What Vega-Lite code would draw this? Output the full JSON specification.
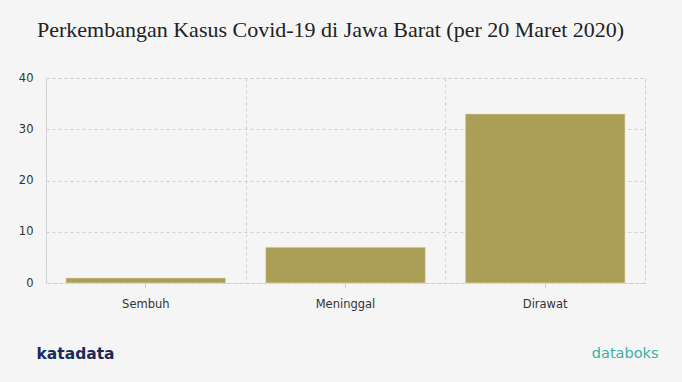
{
  "$schema": "https://vega.github.io/schema/vega-lite/v6.json",
  "autosize": "none",
  "width": 599,
  "height": 205,
  "padding": {"left": 46, "top": 78, "right": 37, "bottom": 99},
  "background": "#f5f5f5",
  "title": {
    "text": "Perkembangan Kasus Covid-19 di Jawa Barat (per 20 Maret 2020)",
    "anchor": "start",
    "frame": "group",
    "dx": -9,
    "offset": 30,
    "font": "Liberation Serif",
    "fontSize": 22,
    "fontWeight": "normal",
    "color": "#222222"
  },
  "config": {
    "view": {"stroke": "#cccccc", "strokeDash": [3, 3], "strokeWidth": 1},
    "axis": {
      "labelFont": "DejaVu Sans",
      "labelFontSize": 11.5,
      "labelColor": "#333333",
      "gridColor": "#d0d0d0",
      "gridDash": [3, 3],
      "gridWidth": 1
    }
  },
  "data": {
    "values": [
      {"status": "Sembuh", "jumlah": 1},
      {"status": "Meninggal", "jumlah": 7},
      {"status": "Dirawat", "jumlah": 33}
    ]
  },
  "layer": [
    {
      "mark": {"type": "bar", "opacity": 0},
      "encoding": {
        "x": {
          "field": "status", "type": "nominal", "sort": null,
          "scale": {"paddingInner": 0, "paddingOuter": 0},
          "axis": {
            "orient": "bottom",
            "grid": true, "tickBand": "extent", "ticks": false, "labels": false, "domain": false,
            "title": null
          }
        },
        "y": {
          "field": "jumlah", "type": "quantitative",
          "scale": {"domain": [0, 40]},
          "axis": {
            "domain": false, "ticks": false, "labelPadding": 13, "tickCount": 4, "grid": true,
            "title": "katadata", "titleAngle": 0, "titleAnchor": "start", "titleAlign": "left", "titleBaseline": "middle",
            "titleX": -10, "titleY": 275,
            "titleFont": "DejaVu Sans", "titleFontSize": 15.5, "titleFontWeight": "bold", "titleColor": "#1a2a5a"
          }
        }
      }
    },
    {
      "mark": {"type": "bar", "color": "#a49646", "opacity": 0.9, "stroke": "#e8e4c8", "strokeWidth": 1, "strokeOpacity": 0.6, "width": {"band": 0.8}},
      "encoding": {
        "x": {
          "field": "status", "type": "nominal", "sort": null,
          "axis": {
            "orient": "bottom",
            "grid": false, "domain": false, "ticks": true, "tickSize": 5, "tickColor": "#cccccc",
            "labelPadding": 10, "labelAngle": 0,
            "title": "databoks", "titleAnchor": "end", "titleAlign": "right", "titleBaseline": "middle",
            "titleX": 612, "titleY": 70,
            "titleFont": "DejaVu Sans", "titleFontSize": 14.5, "titleFontWeight": "normal", "titleColor": "#3aaea8"
          }
        },
        "y": {"field": "jumlah", "type": "quantitative"}
      }
    }
  ],
  "resolve": {"axis": {"x": "independent"}}
}
